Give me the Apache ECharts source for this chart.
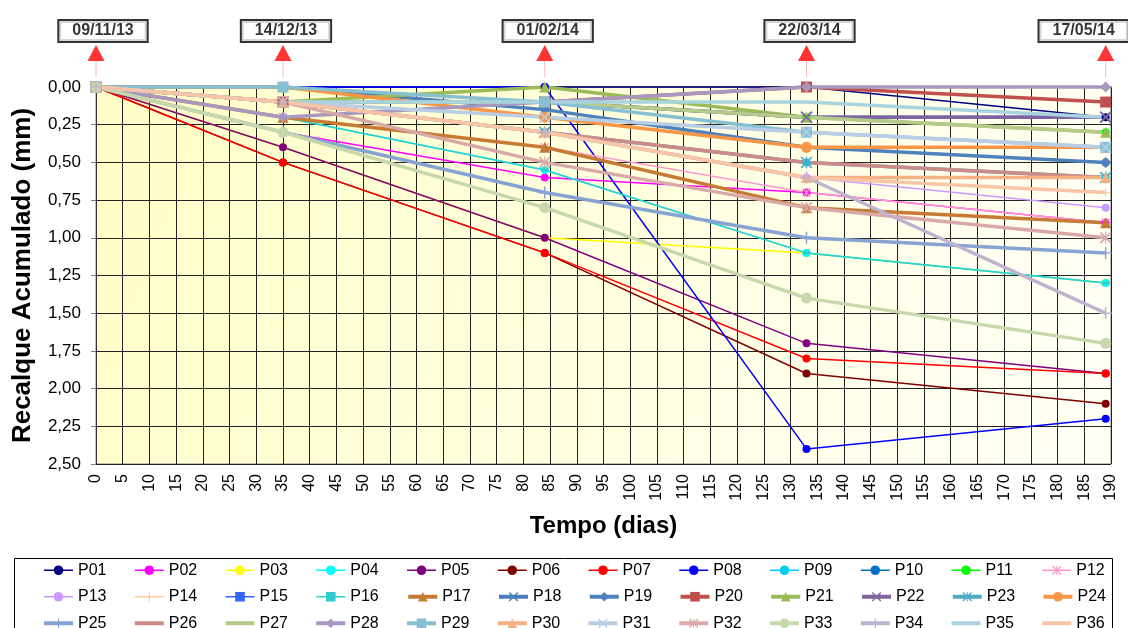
<!DOCTYPE html>
<html>
<head>
<meta charset="utf-8">
<script src="https://cdn.jsdelivr.net/npm/echarts@6/dist/echarts.min.js"></script>
<style>
  html, body { margin: 0; padding: 0; background: #fff; }
  #chart { width: 1128px; height: 628px; }
</style>
</head>
<body>
<div id="chart"></div>
<script>
// dias de leitura (desde 09/11/13)
const days = [0, 35, 84, 133, 189];
const dateLabels = ['09/11/13', '14/12/13', '01/02/14', '22/03/14', '17/05/14'];
const names = ['P01','P02','P03','P04','P05','P06','P07','P08','P09','P10','P11','P12',
               'P13','P14','P15','P16','P17','P18','P19','P20','P21','P22','P23','P24',
               'P25','P26','P27','P28','P29','P30','P31','P32','P33','P34','P35','P36'];

// recalque acumulado (mm) por pilar
const p01 = [0, 0, 0, 0, 0.2];
const p02 = [0, 0.3, 0.6, 0.7, 0.9];
const p03 = [0, 0.4, 1.0, 1.1, 1.3];
const p04 = [0, 0.2, 0.55, 1.1, 1.3];
const p05 = [0, 0.4, 1.0, 1.7, 1.9];
const p06 = [0, 0.5, 1.1, 1.9, 2.1];
const p07 = [0, 0.5, 1.1, 1.8, 1.9];
const p08 = [0, 0, 0, 2.4, 2.2];
const p09 = [0, 0.1, 0.3, 0.5, 0.6];
const p10 = [0, 0.1, 0.2, 0.4, 0.5];
const p11 = [0, 0.1, 0.1, 0.2, 0.3];
const p12 = [0, 0.2, 0.4, 0.7, 0.9];
const p13 = [0, 0.1, 0.3, 0.6, 0.8];
const p14 = [0, 0.1, 0.3, 0.6, 0.7];
const p15 = [0, 0.1, 0.2, 0.4, 0.5];
const p16 = [0, 0.2, 0.55, 1.1, 1.3];
const p17 = [0, 0.2, 0.4, 0.8, 0.9];
const p18 = [0, 0.1, 0.1, 0.2, 0.2];
const p19 = [0, 0, 0.15, 0.4, 0.5];
const p20 = [0, 0.1, 0.1, 0, 0.1];
const p21 = [0, 0.1, 0, 0.2, 0.3];
const p22 = [0, 0.1, 0.1, 0.2, 0.2];
const p23 = [0, 0.1, 0.3, 0.5, 0.6];
const p24 = [0, 0, 0.2, 0.4, 0.4];
const p25 = [0, 0.3, 0.7, 1.0, 1.1];
const p26 = [0, 0.1, 0.3, 0.5, 0.6];
const p27 = [0, 0.1, 0.1, 0.2, 0.3];
const p28 = [0, 0.2, 0.1, 0, 0];
const p29 = [0, 0, 0.1, 0.3, 0.4];
const p30 = [0, 0.1, 0.3, 0.6, 0.6];
const p31 = [0, 0.1, 0.2, 0.3, 0.4];
const p32 = [0, 0.1, 0.5, 0.8, 1.0];
const p33 = [0, 0.3, 0.8, 1.4, 1.7];
const p34 = [0, 0.1, 0.3, 0.6, 1.5];
const p35 = [0, 0.1, 0.1, 0.1, 0.2];
const p36 = [0, 0.1, 0.3, 0.6, 0.7];
const values = [p01,p02,p03,p04,p05,p06,p07,p08,p09,p10,p11,p12,p13,p14,p15,p16,p17,p18,
                p19,p20,p21,p22,p23,p24,p25,p26,p27,p28,p29,p30,p31,p32,p33,p34,p35,p36];

// estilo de cada série (estilo Excel)
const colors = ['#000080','#FF00FF','#FFFF00','#00FFFF','#800080','#800000','#FF0000','#0000FF',
                '#00CCFF','#0070C0','#00FF00','#FF99CC','#CC99FF','#FFCC99','#3366FF','#33CCCC',
                '#C77A35','#4A7EBB','#4F81BD','#C0504D','#9BBB59','#8064A2','#4BACC6','#F79646',
                '#87A3D2','#CD8A87','#B5CB8A','#A898C0','#86C0D2','#F4B183','#B9CDE5','#D9A9A8',
                '#C6D8AC','#BFB4D0','#A9D3DF','#F8C5A6'];
const X = 'path://M0,1L1,0L5,4L9,0L10,1L6,5L10,9L9,10L5,6L1,10L0,9L4,5Z';
const STAR = 'path://M0,1L1,0L5,4L9,0L10,1L6,5L10,9L9,10L5,6L1,10L0,9L4,5Z M4.5,0H5.5V10H4.5Z';
const PLUS = 'path://M4.4,0H5.6V4.4H10V5.6H5.6V10H4.4V5.6H0V4.4H4.4Z';
const DASH = 'path://M0,0H10V3H0Z';
const symbols = ['circle','circle','circle','circle','circle','circle','circle','circle',
                 'circle','circle','circle',STAR,'circle',PLUS,DASH,DASH,
                 'triangle',X,'diamond','rect','triangle',X,STAR,'circle',
                 PLUS,'none','none','diamond','rect','triangle',X,STAR,
                 'circle',PLUS,'none','none'];

const font = "'Liberation Sans', Arial, sans-serif";
const chart = echarts.init(document.getElementById('chart'));

const isThick = i => i >= 16;

const lineSeries = names.map((n, i) => {
  const thick = isThick(i);
  let size = thick ? 11 : 8;
  if (symbols[i] === DASH) size = [8, 3];
  if (symbols[i] === PLUS || symbols[i] === X || symbols[i] === STAR) size = thick ? 12 : 9;
  return {
    name: n,
    type: 'line',
    data: days.map((d, j) => [d, values[i][j]]),
    symbol: symbols[i],
    symbolSize: size,
    showAllSymbol: true,
    lineStyle: { color: colors[i], width: thick ? 3.5 : 1.5 },
    itemStyle: { color: colors[i] },
    emphasis: { disabled: true },
    clip: false
  };
});

// itens da legenda (linha grossa / sem marcador conforme a série)
// o texto das séries grossas é um pouco mais estreito para manter as colunas alinhadas
const legendItems = names.map((n, i) => ({
  name: n,
  lineStyle: { width: isThick(i) ? 4 : 1.5 },
  itemStyle: { opacity: symbols[i] === 'none' ? 0 : 1 },
  textStyle: { width: isThick(i) ? 44.75 : 46 }
}));

// marcadores das datas de leitura
const stems = {
  type: 'scatter', silent: true, z: 5, clip: false,
  data: days.map(d => [d, 0]),
  symbol: 'rect', symbolSize: [1, 16], symbolOffset: [0, -18],
  itemStyle: { color: '#F5AAAA' }
};
const arrows = {
  type: 'scatter', silent: true, z: 5, clip: false,
  data: days.map(d => [d, 0]),
  symbol: 'triangle', symbolSize: [17, 16], symbolOffset: [0, -34],
  itemStyle: { color: '#FF0000' }
};
const dates = {
  type: 'scatter', silent: true, z: 6, clip: false,
  symbolSize: 0.1,
  itemStyle: { color: 'rgba(0,0,0,0)' },
  data: days.map((d, i) => ({
    value: [d, 0],
    label: { offset: [i === 0 ? 7 : (i === days.length - 1 ? -22 : 3), -56] }
  })),
  label: {
    show: true, position: 'inside',
    formatter: p => dateLabels[p.dataIndex],
    fontFamily: font, fontWeight: 'bold', fontSize: 16, color: '#000',
    lineHeight: 17, backgroundColor: '#fff', borderColor: '#000', borderWidth: 2,
    padding: [2, 13, 1, 13]
  }
};

chart.setOption({
  animation: false,
  textStyle: { fontFamily: font },
  grid: {
    left: 96, right: 17, top: 87, bottom: 164,
    show: true,
    borderColor: '#808080', borderWidth: 1,
    backgroundColor: {
      type: 'linear', x: 0, y: 0, x2: 1, y2: 1,
      colorStops: [{ offset: 0, color: '#FFFEC6' }, { offset: 1, color: '#FFFFF7' }]
    }
  },
  xAxis: {
    type: 'value', min: 0, max: 190, interval: 5,
    name: 'Tempo (dias)', nameLocation: 'middle', nameGap: 50,
    nameTextStyle: { fontSize: 24, fontWeight: 'bold', color: '#000' },
    axisLine: { lineStyle: { color: '#808080', width: 2 } },
    axisTick: { show: false },
    axisLabel: { rotate: 90, fontSize: 16, color: '#000', margin: 10 },
    splitLine: { lineStyle: { color: '#222', width: 1 } }
  },
  yAxis: {
    type: 'value', inverse: true, min: 0, max: 2.5, interval: 0.25,
    name: 'Recalque Acumulado (mm)', nameLocation: 'middle', nameGap: 60,
    nameTextStyle: { fontSize: 26, fontWeight: 'bold', color: '#000' },
    axisLine: { show: true, lineStyle: { color: '#333' } },
    axisTick: { show: true, length: 5, lineStyle: { color: '#808080' } },
    axisLabel: {
      fontSize: 17, color: '#000', margin: 15,
      formatter: v => v.toFixed(2).replace('.', ',')
    },
    splitLine: { lineStyle: { color: '#222', width: 1 } }
  },
  legend: {
    data: legendItems,
    left: 42, top: 562, width: 1100,
    padding: 0,
    itemWidth: 29, itemHeight: 12, itemGap: 10,
    textStyle: { fontSize: 16, color: '#000', width: 46, lineHeight: 16.5 },
    selectedMode: false
  },
  graphic: [{
    type: 'rect', left: 12, top: 556, silent: true,
    shape: { width: 1098, height: 100 },
    style: { fill: 'none', stroke: '#000', lineWidth: 1 }
  }],
  series: [...lineSeries, stems, arrows, dates]
});
</script>
</body>
</html>
